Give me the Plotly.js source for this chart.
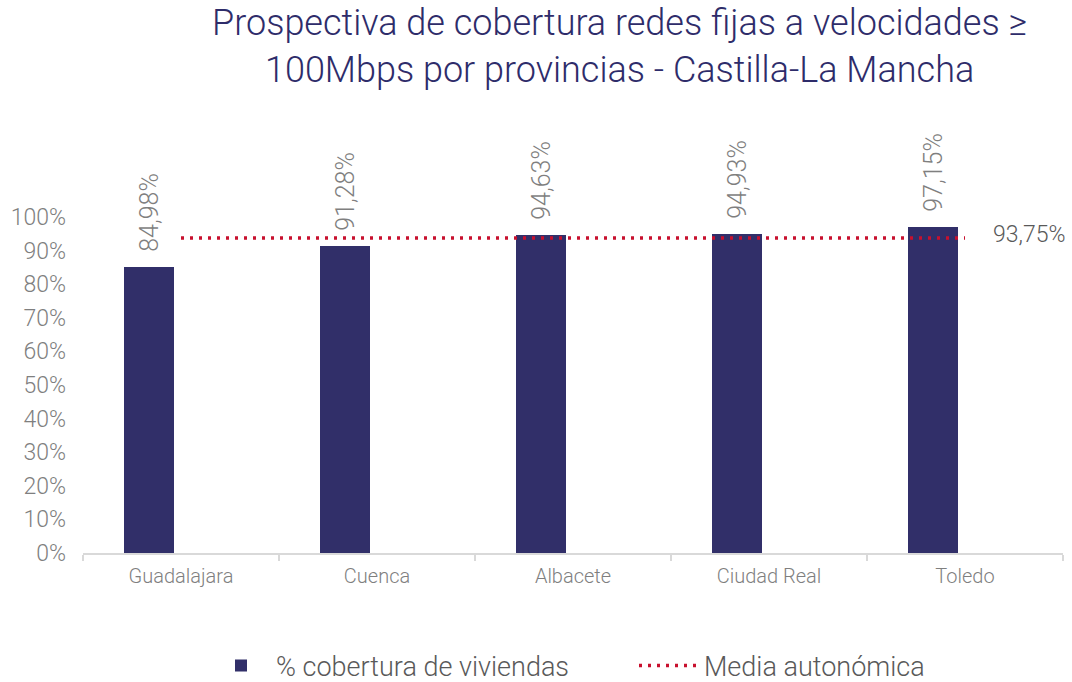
<!DOCTYPE html>
<html>
<head>
<meta charset="utf-8">
<script src="https://cdn.plot.ly/plotly-3.0.1.min.js"></script>
<style>html,body{margin:0;padding:0;background:#fff;}#chart{width:1072px;height:682px;}</style>
</head>
<body>
<div id="chart"></div>
<script>
const categories = ["Guadalajara", "Cuenca", "Albacete", "Ciudad Real", "Toledo"];
const coverage = [0.8498, 0.9128, 0.9463, 0.9493, 0.9715];
const regionalMean = [0.9375, 0.9375, 0.9375, 0.9375, 0.9375];
const yTickVals = [0, 0.1, 0.2, 0.3, 0.4, 0.5, 0.6, 0.7, 0.8, 0.9, 1.0];
const seriesNames = ["% cobertura de viviendas", "Media autonómica"];
const titleText = "Prospectiva de cobertura redes fijas a velocidades ≥<br>100Mbps por provincias - Castilla-La Mancha";

const FONT = "Roboto, 'Open Sans', sans-serif";
const W = 300;
const navy = "#312f69";
const gray = "#7f7f7f";

const traces = [
  {
    type: "bar",
    name: seriesNames[0],
    x: categories,
    y: coverage,
    width: 0.255,
    offset: -0.29,
    marker: {color: navy},
    texttemplate: "\u00a0\u00a0%{y:.2%}",
    textposition: "outside",
    textangle: -90,
    constraintext: "none",
    cliponaxis: false,
    textfont: {family: FONT, size: 25, color: gray, weight: W},
    hoverinfo: "x+y"
  },
  {
    type: "scatter",
    mode: "lines",
    name: seriesNames[1],
    x: categories,
    y: regionalMean,
    line: {color: "#c8102e", width: 3.5, dash: "3px,6px"},
    cliponaxis: false
  }
];

const layout = {
  width: 1072,
  height: 682,
  paper_bgcolor: "#fff",
  plot_bgcolor: "#fff",
  separators: ",.",
  font: {family: FONT, color: gray, weight: W},
  margin: {l: 83, r: 9, t: 133, b: 129, pad: 0},
  title: {
    text: titleText,
    x: 0.578, xanchor: "center",
    y: 1 - 35/682, yanchor: "top", yref: "container",
    font: {family: FONT, size: 36, color: "#2e2c6a", weight: W}
  },
  xaxis: {
    type: "category",
    range: [-0.5, 4.5],
    showline: true, linecolor: "#d9d9d9", linewidth: 2,
    ticks: "outside", tickson: "boundaries", ticklen: 6, tickcolor: "#d9d9d9", tickwidth: 2,
    tickfont: {family: FONT, size: 20, color: gray, weight: W},
    ticklabelstandoff: 4,
    showgrid: false, zeroline: false, fixedrange: true
  },
  yaxis: {
    range: [0, 1.25],
    tickvals: yTickVals,
    tickformat: ".0%",
    tickfont: {family: FONT, size: 23, color: gray, weight: W},
    showgrid: false, zeroline: false, showline: false,
    ticks: "", ticklabelstandoff: 16, fixedrange: true
  },
  bargap: 0,
  showlegend: true,
  legend: {
    orientation: "h",
    x: 206/1072, xanchor: "left", xref: "container",
    y: 16/682, yanchor: "middle", yref: "container",
    font: {family: FONT, size: 27, color: "#595959", weight: W},
    itemwidth: 60,
    entrywidth: 353,
    traceorder: "normal"
  },
  annotations: [
    {
      x: categories[categories.length - 1],
      y: regionalMean[regionalMean.length - 1],
      xref: "x", yref: "y",
      text: (regionalMean[regionalMean.length - 1] * 100).toFixed(2).replace(".", ",") + "%",
      showarrow: false,
      xanchor: "left", yanchor: "middle",
      xshift: 26, yshift: 4,
      font: {family: FONT, size: 23, color: "#595959", weight: W}
    }
  ]
};

Plotly.newPlot("chart", traces, layout, {displayModeBar: false, responsive: false});
</script>
</body>
</html>
